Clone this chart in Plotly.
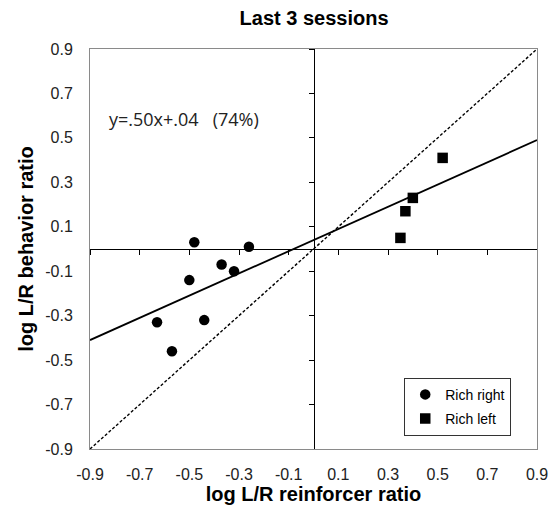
import plotly.graph_objects as go

# ---- data ----
rich_right_x = [-0.48, -0.26, -0.37, -0.32, -0.50, -0.63, -0.44, -0.57]
rich_right_y = [0.03, 0.01, -0.07, -0.10, -0.14, -0.33, -0.32, -0.46]
rich_left_x = [0.52, 0.40, 0.37, 0.35]
rich_left_y = [0.41, 0.23, 0.17, 0.05]
fit_slope = 0.50
fit_intercept = 0.04
axis_range = [-0.9, 0.9]
tick_values = [-0.9, -0.7, -0.5, -0.3, -0.1, 0.1, 0.3, 0.5, 0.7, 0.9]
tick_labels = ["-0.9", "-0.7", "-0.5", "-0.3", "-0.1", "0.1", "0.3", "0.5", "0.7", "0.9"]
equation_text = "y=.50x+.04\u00a0\u00a0\u00a0(74%)"

FONT = "Arial, 'Liberation Sans', sans-serif"

fit_x = list(axis_range)
fit_y = [fit_slope * v + fit_intercept for v in fit_x]

fig = go.Figure()

# identity line (dashed)
fig.add_trace(go.Scatter(x=fit_x, y=fit_x, mode="lines",
                         line=dict(color="black", width=1.4, dash="3px,2px"),
                         showlegend=False, hoverinfo="skip"))
# fitted line
fig.add_trace(go.Scatter(x=fit_x, y=fit_y, mode="lines",
                         line=dict(color="black", width=1.8),
                         showlegend=False, hoverinfo="skip"))
# data
fig.add_trace(go.Scatter(x=rich_right_x, y=rich_right_y, mode="markers",
                         name="Rich right", legendgroup="a",
                         marker=dict(symbol="circle", size=10.5, color="black")))
fig.add_trace(go.Scatter(x=rich_left_x, y=rich_left_y, mode="markers",
                         name="Rich left", legendgroup="b",
                         marker=dict(symbol="square", size=10.5, color="black")))
# helper trace for the zero-crossing axes
fig.add_trace(go.Scatter(x=[None], y=[None], xaxis="x2", yaxis="y2",
                         showlegend=False, hoverinfo="skip"))

fig.update_layout(
    width=559, height=516,
    margin=dict(l=90, r=22, t=49, b=67),
    paper_bgcolor="white", plot_bgcolor="white",
    font=dict(family=FONT, color="#222"),
    title=dict(text="<b>Last 3 sessions</b>", x=0.5618, xanchor="center",
               y=0.965, yanchor="middle", font=dict(size=20, color="black")),
    xaxis=dict(range=axis_range, tickvals=tick_values, ticktext=tick_labels,
               showgrid=False, zeroline=False, showline=True, mirror=True,
               linecolor="#8a8a8a", linewidth=1, ticks="",
               ticklabelstandoff=11,
               tickfont=dict(size=16, color="#222"),
               title=dict(text="<b>log L/R reinforcer ratio</b>",
                          font=dict(size=20, color="black"), standoff=4)),
    yaxis=dict(range=axis_range, tickvals=tick_values, ticktext=tick_labels,
               showgrid=False, zeroline=False, showline=True, mirror=True,
               linecolor="#8a8a8a", linewidth=1, ticks="",
               ticklabelstandoff=13,
               tickfont=dict(size=16, color="#222"),
               title=dict(text="<b>log L/R behavior ratio</b>",
                          font=dict(size=20, color="black"), standoff=6)),
    xaxis2=dict(range=axis_range, overlaying="x", anchor="free", position=0.5,
                tickvals=tick_values, showticklabels=False, ticks="outside",
                ticklen=5, tickcolor="black", showline=True, linecolor="black",
                linewidth=1, showgrid=False, zeroline=False, layer="below traces"),
    yaxis2=dict(range=axis_range, overlaying="y", anchor="free", position=0.5,
                tickvals=tick_values, showticklabels=False, ticks="outside",
                ticklen=5, tickcolor="black", showline=True, linecolor="black",
                linewidth=1, showgrid=False, zeroline=False, layer="below traces"),
    legend=dict(x=0.703, y=0.178, xanchor="left", yanchor="top",
                bordercolor="#333", borderwidth=1, bgcolor="white",
                font=dict(size=14, color="black"), traceorder="grouped",
                tracegroupgap=3, itemwidth=30),
    annotations=[dict(text=equation_text, xref="paper", yref="paper",
                      x=0.038, y=0.825, xanchor="left", yanchor="middle",
                      showarrow=False,
                      font=dict(family="Open Sans, Noto Sans, sans-serif",
                                size=18, color="#222"))],
)

fig.write_html("out.html")
